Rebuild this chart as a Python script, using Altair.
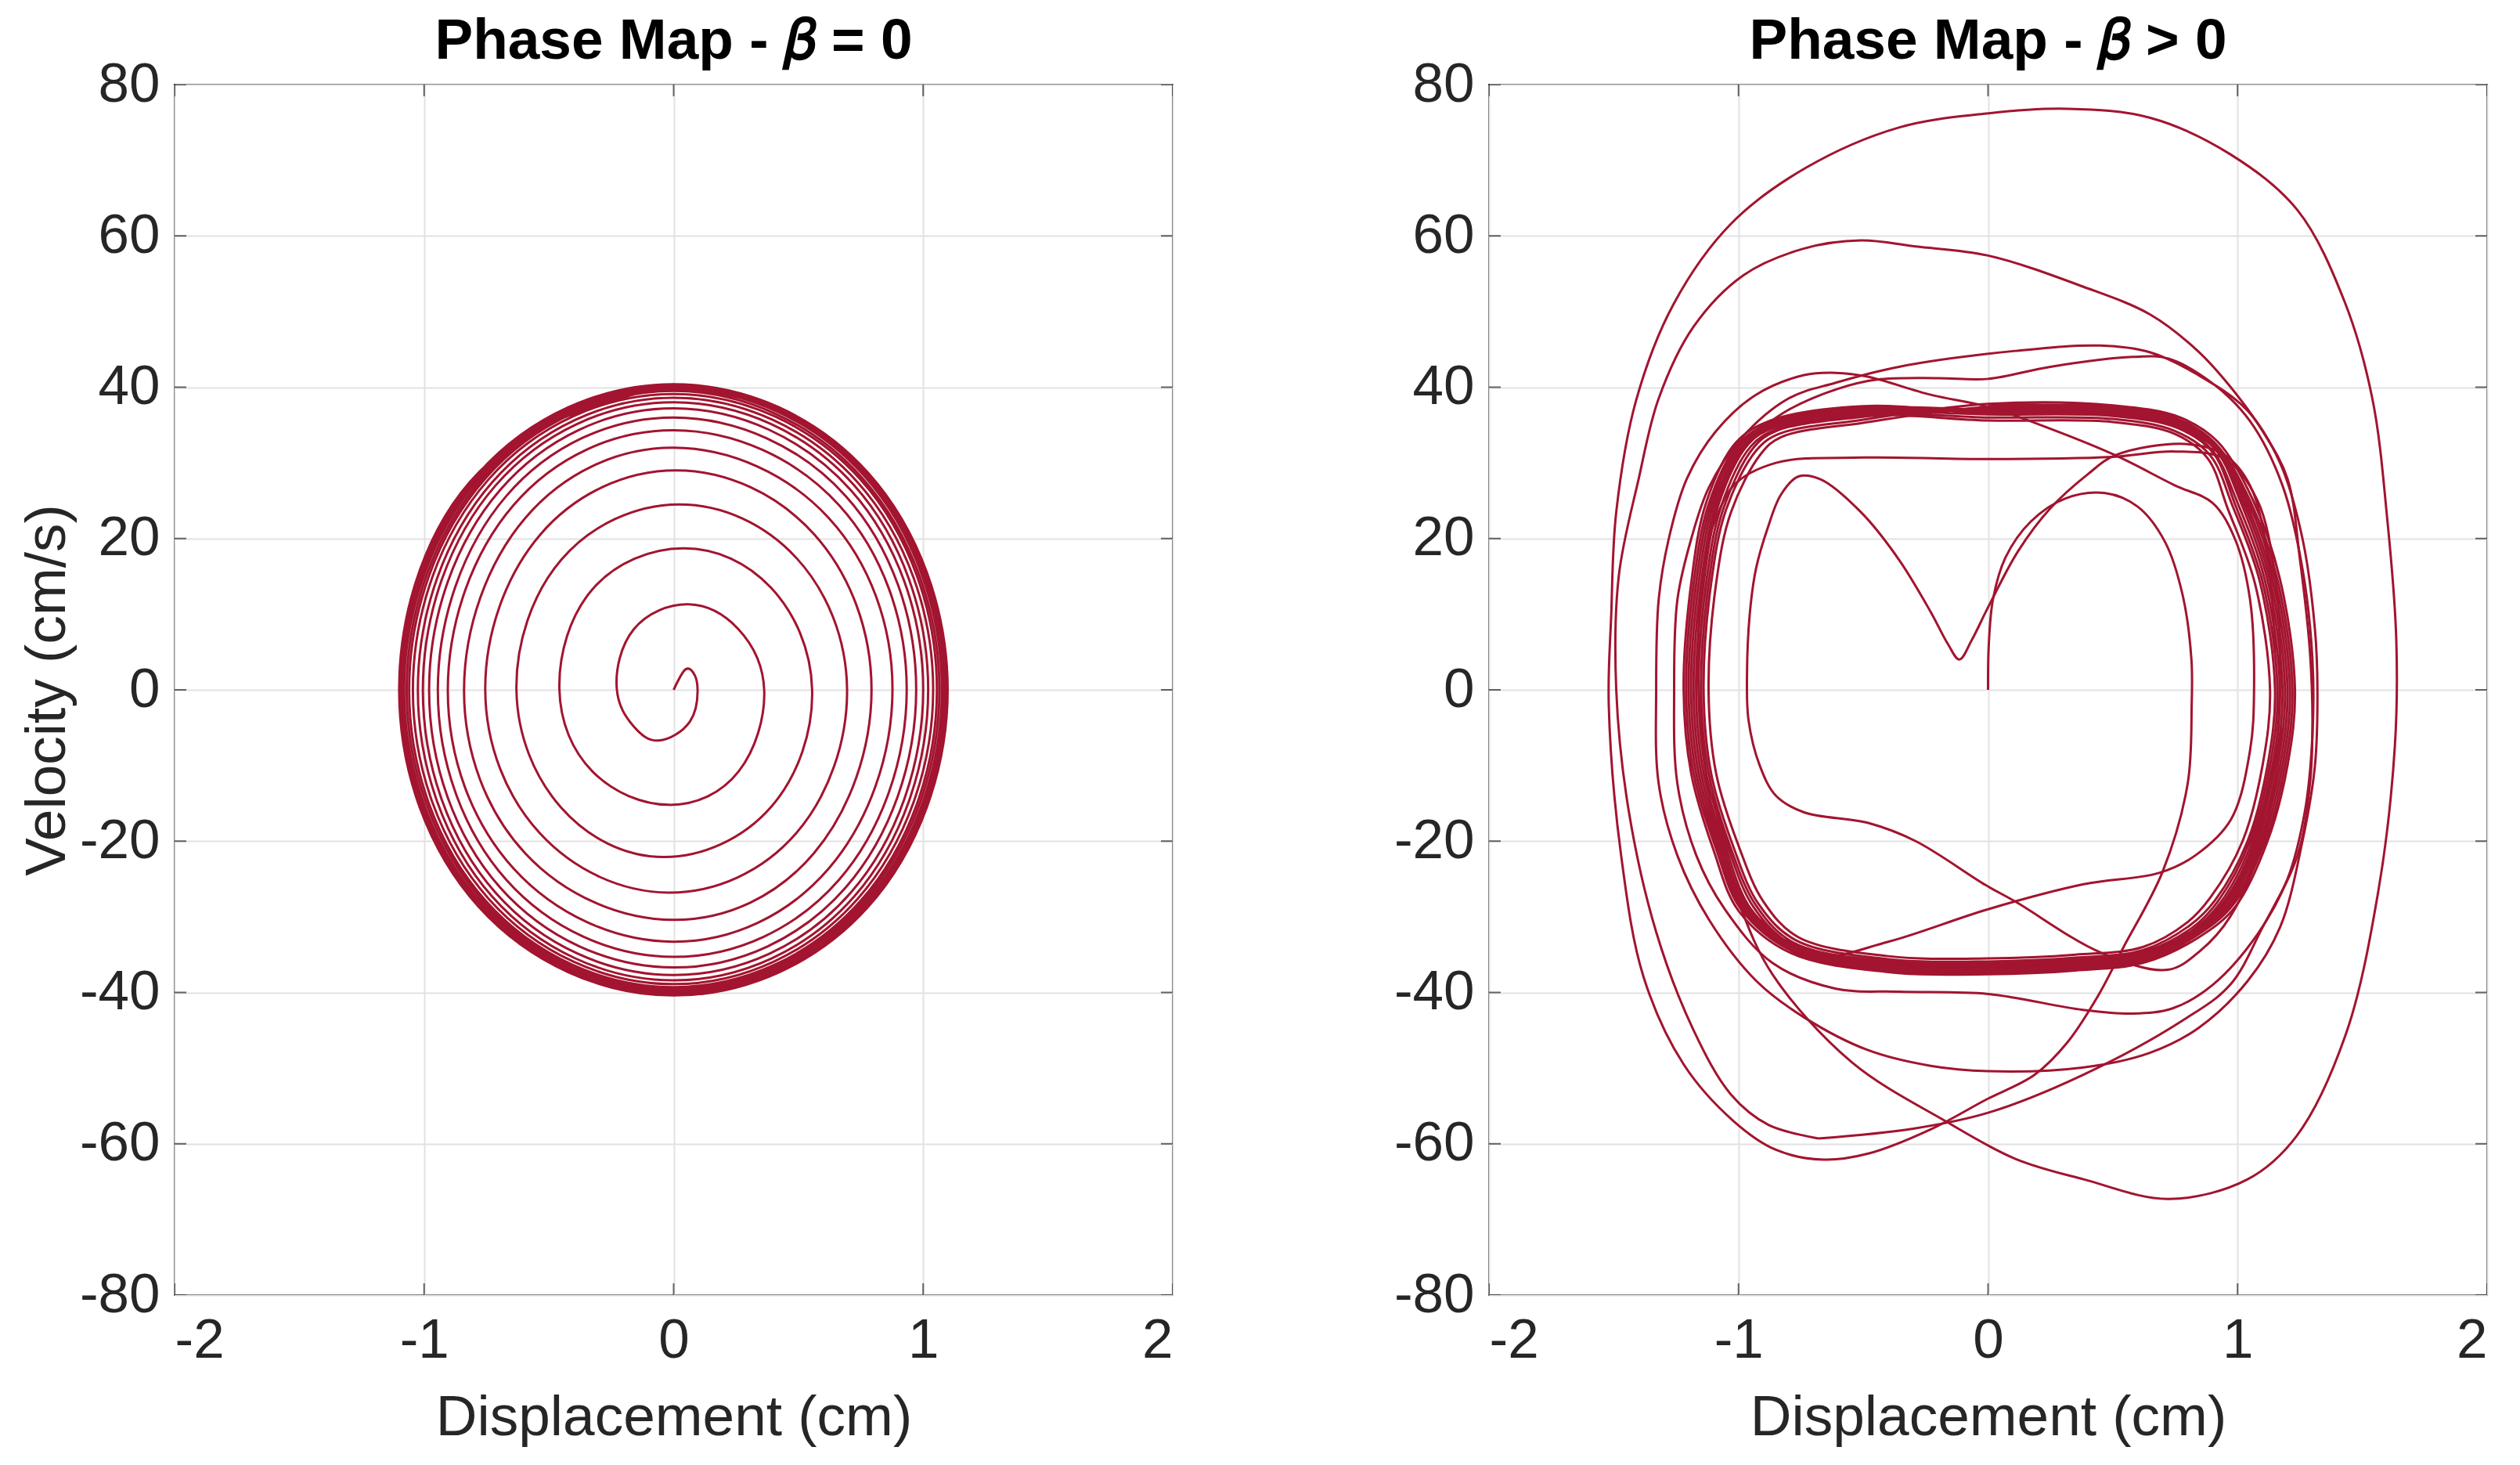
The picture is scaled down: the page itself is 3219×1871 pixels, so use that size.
import altair as alt
import pandas as pd

RED = "#A2142F"
FONT = "Liberation Sans"
INK = "#262626"

x_ticks = [-2, -1, 0, 1, 2]
y_ticks = [-80, -60, -40, -20, 0, 20, 40, 60, 80]

# ---------------- left panel: beta = 0 (spiral growing to a limit ellipse)
left_x = [
    0.0, 0.049, 0.085, 0.096, 0.065, -0.06, -0.162, -0.228, -0.16,
    0.06, 0.26, 0.363, 0.26, -0.02, -0.325, -0.458, -0.325,
    0.04, 0.39, 0.555, 0.39, -0.04, -0.45, -0.63, -0.45,
    0.02, 0.49, 0.695, 0.49, -0.02, -0.535, -0.755, -0.535,
    0.01, 0.562, 0.793, 0.562, 0.0, -0.595, -0.84, -0.595,
    0.0, 0.622, 0.877, 0.622, 0.0, -0.642, -0.905, -0.642,
    0.0, 0.663, 0.934, 0.663, 0.0, -0.671, -0.945, -0.671,
    0.0, 0.69, 0.972, 0.69, 0.0, -0.696, -0.98, -0.696,
    0.0, 0.71, 1.0, 0.71, 0.0, -0.714, -1.005, -0.714,
    0.0, 0.724, 1.02, 0.724, 0.0, -0.728, -1.025, -0.728,
    0.0, 0.738, 1.04, 0.738, 0.0, -0.742, -1.045, -0.742,
    0.0, 0.749, 1.055, 0.749, 0.0, -0.753, -1.06, -0.753,
    0.0, 0.756, 1.065, 0.756, 0.0, -0.76, -1.07, -0.76,
    0.0, 0.763, 1.075, 0.763, 0.0, -0.767, -1.08, -0.767,
    0.0, 0.767, 1.08, 0.767, 0.0, -0.772, -1.087, -0.772,
    0.0, 0.77, 1.085, 0.77, 0.0, -0.775, -1.092, -0.775,
    0.0, 0.774, 1.09, 0.774, 0.0, -0.777, -1.095, -0.777,
    0.0, 0.776, 1.093, 0.776, 0.0, -0.779, -1.097, -0.779,
    0.0, 0.778, 1.096, 0.778, 0.0, -0.78, -1.099, -0.78,
    0.0, 0.779, 1.098, 0.779, 0.0, -0.781, -1.1, -0.781,
    0.0,
]
left_y = [
    0.0, 2.73, 1.9, -0.1, -4.2, -6.7, -4.76, 0.2, 8.0,
    11.3, 8.0, -0.1, -10.8, -15.2, -10.8, 0.2, 13.3,
    18.7, 13.5, 0.0, -15.5, -22.1, -15.6, 0.0, 17.2,
    24.5, 17.5, 0.0, -19.0, -26.8, -19.0, 0.0, 20.5,
    29.0, 20.6, 0.0, -21.6, -30.4, -21.6, 0.0, 22.7,
    32.0, 22.7, 0.0, -23.6, -33.3, -23.6, 0.0, 24.4,
    34.3, 24.4, 0.0, -25.1, -35.3, -25.1, 0.0, 25.6,
    36.0, 25.6, 0.0, -26.1, -36.7, -26.1, 0.0, 26.4,
    37.2, 26.4, 0.0, -26.8, -37.7, -26.8, 0.0, 27.0,
    38.0, 27.0, 0.0, -27.3, -38.4, -27.3, 0.0, 27.4,
    38.6, 27.4, 0.0, -27.6, -38.9, -27.6, 0.0, 27.8,
    39.1, 27.8, 0.0, -27.9, -39.3, -27.9, 0.0, 28.0,
    39.5, 28.0, 0.0, -28.1, -39.6, -28.1, 0.0, 28.2,
    39.8, 28.3, 0.0, -28.3, -39.8, -28.3, 0.0, 28.4,
    40.0, 28.4, 0.0, -28.4, -40.0, -28.4, 0.0, 28.5,
    40.15, 28.5, 0.0, -28.5, -40.1, -28.5, 0.0, 28.6,
    40.25, 28.6, 0.0, -28.6, -40.2, -28.6, 0.0, 28.65,
    40.3, 28.65, 0.0, -28.6, -40.3, -28.6, 0.0, 28.7,
    40.35, 28.7, 0.0, -28.65, -40.35, -28.65, 0.0, 28.7,
    40.4, 28.7, 0.0, -28.7, -40.4, -28.7, 0.0, 28.75,
    40.4,
]

# ---------------- right panel: beta > 0 (traced trajectory pieces)
# start at origin, right lobe of the heart, big outer excursion, back into the band
r1_x = [0.0, 0.003, 0.02, 0.07, 0.17, 0.31, 0.47, 0.6, 0.71, 0.78, 0.815, 0.816, 0.8, 0.7, 0.54, 0.44,
        0.318, 0.186, -0.01, -0.23, -0.48, -0.66, -0.85, -1.02, -1.22, -1.38, -1.47, -1.52, -1.51, -1.49,
        -1.41, -1.26, -1.03, -0.73, -0.36, 0.0, 0.32, 0.65, 0.97, 1.24, 1.43, 1.54, 1.6, 1.636, 1.63,
        1.564, 1.433, 1.236, 1.04, 0.724, 0.383, 0.11, -0.166, -0.547, -0.864, -1.0, -1.1, -1.15, -1.16,
        -1.13, -1.06, -0.95, -0.8, -0.5]
r1_y = [0.0, 6.0, 12.0, 17.5, 22.2, 25.3, 26.0, 24.2, 19.5, 12.5, 4.0, -2.0, -12.4, -24.0, -34.2, -40.5,
        -46.6, -50.9, -54.2, -58.1, -61.3, -62.1, -60.8, -57.0, -49.5, -38.0, -22.0, -2.0, 10.0, 23.5,
        38.3, 51.0, 61.6, 69.0, 74.3, 76.2, 76.8, 75.6, 70.8, 63.4, 51.2, 38.5, 22.5, 6.6, -7.6,
        -26.6, -45.6, -59.0, -64.7, -67.3, -64.7, -62.0, -57.1, -49.2, -37.6, -28.0, -17.0, -5.0, 8.0,
        18.0, 27.0, 33.0, 36.0, 37.3]

# the dense rounded-rectangle band
band_x = [
    0.0, 0.5, 0.76, 0.91, 1.05, 1.16, 1.22, 1.19, 1.11, 0.98, 0.83, 0.62, 0.35, 0.0, -0.4, -0.78, -0.99, -1.09, -1.18, -1.21, -1.18, -1.12, -1.0, -0.86, -0.5,
    0.0, 0.5, 0.76, 0.91, 1.02, 1.13, 1.19, 1.16, 1.08, 0.95, 0.83, 0.62, 0.35, 0.0, -0.4, -0.78, -0.96, -1.06, -1.15, -1.18, -1.15, -1.09, -0.97, -0.86, -0.5,
    0.0, 0.5, 0.76, 0.9, 0.99, 1.1, 1.16, 1.13, 1.05, 0.92, 0.82, 0.62, 0.35, 0.0, -0.4, -0.78, -0.93, -1.03, -1.12, -1.15, -1.12, -1.06, -0.94, -0.85, -0.5,
    0.0, 0.5, 0.76, 0.91, 1.04, 1.15, 1.21, 1.18, 1.1, 0.97, 0.83, 0.62, 0.35, 0.0, -0.4, -0.78, -0.98, -1.08, -1.17, -1.2, -1.17, -1.11, -0.99, -0.86, -0.5,
    0.0, 0.5, 0.76, 0.91, 1.01, 1.12, 1.18, 1.15, 1.07, 0.94, 0.83, 0.62, 0.35, 0.0, -0.4, -0.78, -0.95, -1.05, -1.14, -1.17, -1.14, -1.08, -0.96, -0.86, -0.5,
    0.0, 0.5, 0.75, 0.89, 0.98, 1.09, 1.15, 1.12, 1.04, 0.91, 0.81, 0.62, 0.35, 0.0, -0.4, -0.77, -0.92, -1.02, -1.11, -1.14, -1.11, -1.05, -0.93, -0.84, -0.5,
    0.0, 0.5, 0.77, 0.92, 1.06, 1.17, 1.23, 1.2, 1.12, 0.99, 0.84, 0.62, 0.35, 0.0, -0.4, -0.79, -1.0, -1.1, -1.19, -1.22, -1.19, -1.13, -1.01, -0.87, -0.5,
    0.0, 0.5, 0.76, 0.9, 1.0, 1.11, 1.17, 1.14, 1.06, 0.93, 0.82, 0.62, 0.35, 0.0, -0.4, -0.78, -0.94, -1.04, -1.13, -1.16, -1.13, -1.07, -0.95, -0.85, -0.5,
    0.0, 0.5, 0.75, 0.88, 0.96, 1.07, 1.13, 1.1, 1.02, 0.89, 0.8, 0.62, 0.35, 0.0, -0.4, -0.76, -0.9, -1.0, -1.09, -1.12, -1.09, -1.03, -0.91, -0.83, -0.5,
    0.0, 0.5, 0.76, 0.91, 1.03, 1.14, 1.2, 1.17, 1.09, 0.96, 0.83, 0.62, 0.35, 0.0, -0.4, -0.78, -0.97, -1.07, -1.16, -1.19, -1.16, -1.1, -0.98, -0.86, -0.5,
    0.0,
]
band_y = [
    37.6, 37.4, 35.8, 32.6, 25.0, 14.5, 0.0, -10.0, -20.0, -28.5, -32.6, -35.9, -36.9, -37.4, -37.1, -34.6, -29.0, -21.0, -11.0, 0.0, 14.0, 24.5, 32.5, 35.4, 37.3,
    37.0, 36.8, 35.2, 32.0, 25.0, 14.5, 0.0, -10.0, -20.0, -28.5, -32.0, -35.3, -36.3, -36.8, -36.5, -34.0, -29.0, -21.0, -11.0, 0.0, 14.0, 24.5, 32.5, 34.8, 36.7,
    36.4, 36.2, 34.6, 31.4, 24.5, 14.3, 0.0, -10.0, -20.0, -28.0, -31.4, -34.7, -35.7, -36.2, -35.9, -33.4, -28.5, -21.0, -11.0, 0.0, 14.0, 24.0, 32.0, 34.2, 36.1,
    37.2, 37.0, 35.4, 32.2, 25.0, 14.5, 0.0, -10.0, -20.0, -28.5, -32.2, -35.5, -36.5, -37.0, -36.7, -34.2, -29.0, -21.0, -11.0, 0.0, 14.0, 24.5, 32.5, 35.0, 36.9,
    36.8, 36.6, 35.0, 31.8, 25.0, 14.5, 0.0, -10.0, -20.0, -28.5, -31.7, -35.0, -36.0, -36.5, -36.2, -33.7, -29.0, -21.0, -11.0, 0.0, 14.0, 24.5, 32.5, 34.6, 36.5,
    36.0, 35.8, 34.2, 31.0, 24.3, 14.2, 0.0, -10.0, -20.0, -27.8, -31.1, -34.4, -35.4, -35.9, -35.6, -33.1, -28.3, -20.8, -11.0, 0.0, 14.0, 23.8, 31.6, 33.8, 35.7,
    37.8, 37.6, 36.0, 32.8, 25.2, 14.6, 0.0, -10.0, -20.0, -28.7, -32.8, -36.1, -37.1, -37.6, -37.3, -34.8, -29.2, -21.2, -11.0, 0.0, 14.0, 24.7, 32.7, 35.6, 37.5,
    36.6, 36.4, 34.8, 31.6, 24.7, 14.4, 0.0, -10.0, -20.0, -28.2, -31.8, -35.1, -36.1, -36.6, -36.3, -33.8, -28.7, -21.0, -11.0, 0.0, 14.0, 24.2, 32.2, 34.4, 36.3,
    35.6, 35.4, 33.8, 30.6, 24.0, 14.0, 0.0, -10.0, -20.0, -27.5, -30.7, -34.0, -35.0, -35.5, -35.2, -32.7, -28.0, -20.6, -11.0, 0.0, 14.0, 23.5, 31.2, 33.4, 35.3,
    37.4, 37.2, 35.6, 32.4, 25.0, 14.5, 0.0, -10.0, -20.0, -28.5, -32.4, -35.7, -36.7, -37.2, -36.9, -34.4, -29.0, -21.0, -11.0, 0.0, 14.0, 24.5, 32.5, 35.2, 37.1,
    37.0,
]

# second large loop (top near 59)
b_x = [-0.68, -0.88, -1.03, -1.18, -1.33, -1.44, -1.49, -1.48, -1.4, -1.32, -1.18, -0.98, -0.74, -0.51, -0.29,
       0.0, 0.38, 0.65, 0.84, 0.97, 1.1, 1.2, 1.25, 1.29, 1.3, 1.29, 1.24, 1.1, 0.97, 0.78, 0.38, 0.0, -0.3, -0.68]
b_y = [-59.3, -57.5, -53.5, -45.0, -32.0, -16.0, 0.0, 15.0, 27.9, 38.5, 48.0, 54.8, 58.3, 59.4, 58.6,
       57.4, 53.3, 49.6, 44.8, 40.1, 34.2, 27.9, 17.2, 5.0, -5.0, -12.4, -21.9, -31.4, -39.0, -43.7, -50.9, -55.9, -58.0, -59.3]

# medium loops: tops at 44-45, bottoms at -43 and -50, then the inner right loop
m_x = [-0.95, -0.8, -0.6, -0.445, -0.2, 0.0, 0.25, 0.58, 0.72, 0.9, 1.05, 1.18, 1.26, 1.3, 1.3, 1.27, 1.2,
       1.08, 0.9, 0.74, 0.58, 0.38, 0.0, -0.357, -0.61, -0.864, -1.055, -1.169, -1.245, -1.258, -1.245,
       -1.19, -1.118, -0.99, -0.8, -0.61, -0.357, 0.11, 0.449, 0.65, 0.843, 1.04, 1.17, 1.26, 1.31, 1.32,
       1.31, 1.26, 1.17, 1.04, 0.843, 0.646, 0.383, 0.0, -0.23, -0.483, -0.737, -0.928, -1.118, -1.245,
       -1.32, -1.33, -1.32, -1.28, -1.207, -1.09, -0.93, -0.737, -0.61, -0.483, -0.23, 0.0, 0.25, 0.51,
       0.75, 0.9, 0.99, 1.05, 1.066, 1.05, 0.974, 0.83, 0.685, 0.383, 0.0, -0.4, -0.7, -0.9, -1.05]
m_y = [33.5, 37.0, 39.8, 41.0, 41.2, 41.1, 42.7, 44.0, 43.8, 40.5, 35.5, 27.0, 16.0, 4.0, -6.0, -16.0, -25.0,
       -32.3, -39.0, -42.1, -42.8, -42.3, -40.2, -39.9, -39.5, -36.1, -29.0, -21.9, -12.4, 0.0, 11.9,
       19.9, 26.8, 33.2, 38.5, 40.6, 42.7, 44.8, 45.5, 44.6, 41.6, 36.9, 30.0, 20.0, 8.0, 0.0,
       -10.0, -20.0, -31.4, -38.5, -44.7, -48.0, -49.9, -50.4, -49.7, -47.6, -43.3, -38.5, -30.4, -21.9,
       -12.4, 0.0, 11.9, 19.9, 27.9, 34.2, 39.0, 41.6, 41.9, 41.4, 39.0, 37.4, 34.5, 31.0,
       27.0, 24.7, 19.9, 11.9, 0.0, -8.0, -17.1, -21.9, -24.2, -25.7, -29.0, -33.3, -35.3, -32.0, -25.0]

# left lobe of the heart with the cusp
heart_x = [1.18, 1.1, 0.97, 0.85, 0.72, 0.45, 0.11, -0.01, -0.29, -0.48, -0.737, -0.85, -0.915, -0.96, -0.966,
           -0.955, -0.93, -0.883, -0.83, -0.76, -0.67, -0.51, -0.357, -0.23, -0.16, -0.115, -0.065, 0.0, 0.12,
           0.25, 0.4, 0.51, 0.79, 0.95, 1.05, 1.12, 1.15]
heart_y = [-5.0, -20.0, -30.0, -34.5, -37.0, -34.7, -28.0, -25.8, -20.0, -17.6, -16.2, -14.0, -10.0, -4.0, 2.0,
           10.0, 16.0, 21.4, 25.8, 28.2, 27.8, 23.5, 17.2, 10.3, 6.0, 4.0, 6.6, 10.9, 18.3,
           24.0, 28.5, 31.0, 32.5, 31.0, 27.0, 18.0, 5.0]

# flatter inner loop (top near 31)
j_x = [-1.12, -1.02, -0.85, -0.5, 0.0, 0.5, 0.75, 0.95, 1.08, 1.15, 1.17, 1.15, 1.07, 0.92, 0.7, 0.4, 0.0, -0.4]
j_y = [20.0, 27.0, 30.0, 30.7, 30.5, 30.8, 31.5, 30.5, 25.0, 15.0, 3.0, -9.0, -20.0, -29.0, -34.0, -36.0, -36.5, -36.3]


def make_df(segments):
    rows = []
    for s, (xs, ys) in enumerate(segments):
        for i, (x, y) in enumerate(zip(xs, ys)):
            rows.append({"seg": s, "i": i, "x": x, "y": y})
    return pd.DataFrame(rows)


left_df = make_df([(left_x, left_y)])
right_df = make_df([(r1_x, r1_y), (band_x, band_y), (b_x, b_y), (m_x, m_y),
                    (heart_x, heart_y), (j_x, j_y)])

tick_x_df = pd.DataFrame({"x": x_ticks * 2, "y": [-80] * 5 + [80] * 5})
tick_y_df = pd.DataFrame({"x": [-2] * 9 + [2] * 9, "y": y_ticks * 2})

LABEL_EXPR = "'' + datum.value"


def panel(df, title, ytitle, interp):
    xs = alt.Scale(domain=[-2, 2], nice=False, zero=False)
    ys = alt.Scale(domain=[-80, 80], nice=False, zero=False)
    xa = alt.Axis(values=x_ticks, title="Displacement (cm)", labelExpr=LABEL_EXPR)
    ya = alt.Axis(values=y_ticks, title=ytitle, labelExpr=LABEL_EXPR)
    line = alt.Chart(df).mark_line(
        color=RED, strokeWidth=3, interpolate=interp, clip=True
    ).encode(
        x=alt.X("x:Q", scale=xs, axis=xa),
        y=alt.Y("y:Q", scale=ys, axis=ya),
        detail="seg:N",
        order="i:Q",
    )
    tx = alt.Chart(tick_x_df).mark_tick(
        orient="vertical", size=30, thickness=2, color=INK, clip=True
    ).encode(x=alt.X("x:Q", scale=xs, axis=xa), y=alt.Y("y:Q", scale=ys, axis=ya))
    ty = alt.Chart(tick_y_df).mark_tick(
        orient="horizontal", size=30, thickness=2, color=INK, clip=True
    ).encode(x=alt.X("x:Q", scale=xs, axis=xa), y=alt.Y("y:Q", scale=ys, axis=ya))
    return alt.layer(line, tx, ty).properties(
        width=1275, height=1546, title=alt.TitleParams(text=title)
    )


left = panel(left_df, "Phase Map - 𝛽 = 0", "Velocity (cm/s)", "natural")
right = panel(right_df, "Phase Map - 𝛽 > 0", "", "catmull-rom")

chart = alt.hconcat(left, right, spacing=280).properties(
    padding={"left": 15, "top": 8, "right": 5, "bottom": 5}
).configure_axis(
    labelFont=FONT, labelFontSize=71, labelColor=INK,
    titleFont=FONT, titleFontSize=73, titleFontWeight="normal", titleColor=INK,
    grid=True, gridColor="#e2e2e2", gridWidth=2,
    domain=False, ticks=False,
).configure_axisX(labelPadding=23, titlePadding=27).configure_axisY(
    labelPadding=19, titlePadding=4
).configure_view(stroke=INK, strokeWidth=2).configure_title(
    font=FONT, fontSize=73, fontWeight="bold", color="#000000", offset=-18
)

chart.save("out.html", embed_options={"renderer": "svg", "actions": False})
